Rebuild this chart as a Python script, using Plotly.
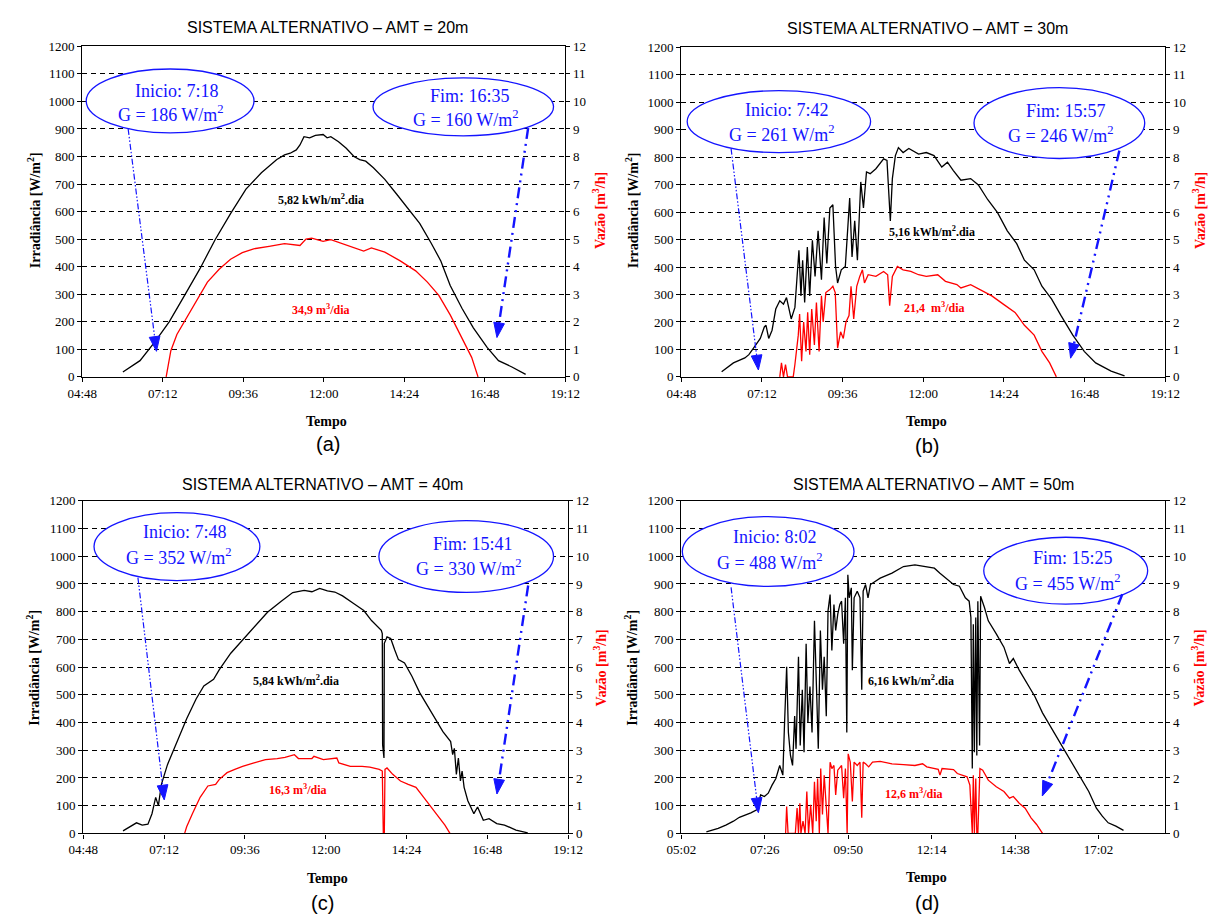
import math
import plotly.graph_objects as go

# ================= DATA (times in decimal hours) =================
# Panel (a) AMT = 20 m
a_irr_h = [6.01, 6.52, 6.98, 7.39, 7.85, 8.30, 8.76, 9.22, 9.68, 9.86, 10.14, 10.60, 10.83, 11.00, 11.18,
           11.29, 11.41, 11.58, 11.75, 11.98, 12.10, 12.21, 12.44, 12.67, 12.90, 13.07, 13.25, 13.48, 13.82,
           14.17, 14.51, 14.86, 15.20, 15.49, 15.77, 16.12, 16.46, 16.87, 17.21, 17.61, 18.02]
a_irr = [18, 59, 130, 200, 296, 391, 498, 593, 682, 705, 741, 789, 806, 812, 824,
         842, 872, 868, 877, 880, 868, 872, 854, 830, 800, 789, 783, 759, 717,
         664, 611, 557, 486, 421, 332, 249, 178, 107, 59, 36, 9]
a_flow_h = [7.30, 7.44, 7.62, 7.85, 8.19, 8.53, 8.88, 9.22, 9.57, 9.91, 10.37, 10.83, 11.29, 11.47, 11.64,
            11.98, 12.21, 12.56, 12.90, 13.19, 13.42, 13.82, 14.28, 14.74, 15.09, 15.43, 15.77, 16.12, 16.41, 16.60]
a_flow = [0, 0.95, 1.54, 2.02, 2.73, 3.44, 3.91, 4.27, 4.51, 4.65, 4.74, 4.84, 4.77, 5.00, 5.04,
          4.92, 4.98, 4.84, 4.68, 4.57, 4.68, 4.53, 4.21, 3.85, 3.44, 2.96, 2.25, 1.42, 0.71, 0]

# Panel (b) AMT = 30 m
b_irr_h = [6.00, 6.35, 6.69, 6.81, 6.98, 7.15, 7.27, 7.32, 7.40, 7.50, 7.61, 7.73, 7.84, 7.93, 8.07,
           8.18, 8.30, 8.36, 8.41, 8.47, 8.55, 8.62, 8.70, 8.78, 8.87, 8.97, 9.05, 9.13, 9.22, 9.31,
           9.39, 9.45, 9.56, 9.68, 9.81, 9.88, 9.96, 10.04, 10.14, 10.22, 10.31, 10.42, 10.59, 10.82, 10.92,
           10.96, 11.02, 11.08, 11.17, 11.26, 11.40, 11.57, 11.86, 12.09, 12.32, 12.55, 12.72, 12.89, 13.12, 13.41,
           13.64, 13.92, 14.21, 14.50, 14.78, 15.01, 15.30, 15.53, 15.82, 16.10, 16.45, 16.79, 17.13, 17.59, 17.99]
b_irr = [19, 51, 69, 81, 110, 140, 182, 188, 140, 170, 247, 277, 265, 289, 211,
         253, 461, 295, 425, 271, 473, 295, 497, 366, 532, 354, 580, 413, 615, 627,
         402, 342, 390, 402, 651, 437, 568, 425, 710, 615, 746, 740, 758, 794, 788,
         675, 568, 722, 806, 835, 817, 832, 811, 817, 806, 764, 782, 752, 716, 722,
         699, 645, 598, 532, 485, 425, 390, 330, 283, 223, 152, 93, 51, 21, 4]
b_flow_h = [7.73, 7.78, 7.84, 7.90, 7.96, 8.13, 8.18, 8.28, 8.32, 8.38, 8.44, 8.51, 8.56, 8.62, 8.68,
            8.76, 8.82, 8.90, 8.97, 9.02, 9.10, 9.22, 9.31, 9.38, 9.45, 9.54, 9.62, 9.70, 9.79, 9.85,
            9.93, 10.02, 10.11, 10.19, 10.25, 10.36, 10.59, 10.82, 10.94, 11.00, 11.08, 11.23, 11.40, 11.63, 11.86,
            12.09, 12.43, 12.66, 13.00, 13.12, 13.41, 13.69, 14.04, 14.38, 14.73, 15.01, 15.30, 15.53, 15.76, 15.96]
b_flow = [0, 0.51, 0, 0.45, 0, 0, 0.45, 1.52, 2.29, 0.57, 2.00, 0.93, 2.35, 0.81, 2.47,
          1.16, 2.71, 0.93, 2.95, 2.00, 3.07, 3.18, 3.30, 3.07, 1.05, 1.64, 1.40, 2.00, 2.23, 3.30,
          2.11, 3.30, 3.66, 3.90, 3.42, 3.72, 3.66, 3.84, 3.72, 2.59, 3.66, 4.02, 3.90, 3.84, 3.72,
          3.66, 3.72, 3.48, 3.36, 3.24, 3.36, 3.18, 2.95, 2.65, 2.35, 1.88, 1.52, 0.93, 0.51, 0]

# Panel (c) AMT = 40 m
c_irr_h = [5.98, 6.21, 6.38, 6.55, 6.72, 6.84, 6.95, 7.03, 7.12, 7.30, 7.58, 7.87, 8.15, 8.38, 8.67,
           8.84, 9.18, 9.53, 9.87, 10.27, 10.67, 11.02, 11.36, 11.59, 11.82, 12.05, 12.27, 12.50, 12.85, 13.13,
           13.36, 13.65, 13.68, 13.69, 13.73, 13.74, 13.82, 13.93, 14.05, 14.16, 14.34, 14.56, 14.79, 15.02, 15.25,
           15.48, 15.71, 15.77, 15.82, 15.88, 15.94, 16.00, 16.05, 16.11, 16.22, 16.40, 16.51, 16.68, 16.85, 17.08,
           17.31, 17.65, 18.00]
c_irr = [9, 24, 38, 30, 33, 71, 130, 100, 177, 248, 331, 414, 485, 532, 556,
         591, 650, 698, 745, 798, 837, 869, 877, 872, 884, 875, 871, 857, 828, 804,
         768, 733, 721, 319, 272, 686, 709, 703, 662, 627, 615, 567, 508, 461, 414,
         367, 331, 284, 307, 213, 272, 189, 225, 166, 118, 71, 95, 47, 53, 35,
         30, 12, 2]
c_flow_h = [7.81, 7.87, 8.04, 8.27, 8.50, 8.73, 8.84, 9.07, 9.30, 9.53, 9.87, 10.21, 10.56, 10.79, 11.07,
            11.19, 11.59, 11.65, 11.93, 12.33, 12.39, 12.73, 13.08, 13.31, 13.59, 13.68, 13.71, 13.74, 13.76, 13.82,
            13.99, 14.22, 14.45, 14.68, 14.91, 15.14, 15.37, 15.54, 15.69]
c_flow = [0, 0.24, 0.71, 1.30, 1.71, 1.77, 1.95, 2.19, 2.31, 2.42, 2.54, 2.66, 2.70, 2.74, 2.84,
          2.70, 2.70, 2.78, 2.66, 2.72, 2.54, 2.42, 2.42, 2.39, 2.31, 2.25, 0, 0, 2.31, 2.36,
          2.13, 1.89, 1.77, 1.66, 1.30, 0.95, 0.59, 0.30, 0]

# Panel (d) AMT = 50 m
d_irr_h = [5.76, 6.10, 6.32, 6.54, 6.71, 6.87, 7.04, 7.21, 7.32, 7.43,
           7.54, 7.65, 7.76, 7.87, 7.96, 8.01, 8.04, 8.07, 8.12, 8.18,
           8.24, 8.30, 8.34, 8.41, 8.46, 8.52, 8.57, 8.63, 8.68, 8.74,
           8.80, 8.87, 8.93, 8.98, 9.04, 9.10, 9.15, 9.21, 9.26, 9.32,
           9.37, 9.43, 9.48, 9.54, 9.60, 9.65, 9.71, 9.76, 9.80, 9.83,
           9.87, 9.93, 9.96, 10.01, 10.10, 10.18, 10.23, 10.27, 10.34, 10.41,
           10.48, 10.76, 11.10, 11.43, 11.76, 12.10, 12.32, 12.48, 12.65, 12.87,
           13.04, 13.21, 13.32, 13.37, 13.41, 13.44, 13.47, 13.51, 13.54, 13.57,
           13.62, 13.65, 13.76, 13.87, 14.10, 14.32, 14.48, 14.59, 14.76, 14.98,
           15.21, 15.43, 15.65, 15.87, 16.10, 16.32, 16.54, 16.76, 16.98, 17.15,
           17.32, 17.54, 17.76]
d_irr = [5, 18, 30, 44, 58, 65, 74, 85, 139, 133,
         145, 174, 198, 245, 210, 400, 530, 601, 364, 281,
         245, 423, 305, 637, 317, 518, 293, 684, 400, 530,
         364, 767, 518, 305, 732, 518, 637, 423, 803, 862,
         660, 826, 732, 791, 826, 838, 684, 850, 364, 933,
         850, 886, 589, 850, 874, 850, 518, 874, 898, 850,
         898, 921, 939, 963, 969, 963, 957, 939, 921, 898,
         892, 850, 838, 779, 234, 755, 293, 779, 281, 838,
         317, 856, 815, 767, 720, 672, 613, 631, 589, 542,
         494, 435, 388, 340, 293, 245, 198, 151, 91, 62,
         38, 26, 11]
d_flow_h = [8.04, 8.07, 8.11, 8.32, 8.37, 8.41, 8.45, 8.48, 8.54, 8.60,
            8.65, 8.70, 8.76, 8.82, 8.87, 8.92, 8.96, 9.01, 9.05, 9.10,
            9.15, 9.21, 9.26, 9.32, 9.37, 9.43, 9.48, 9.54, 9.60, 9.65,
            9.71, 9.76, 9.81, 9.84, 9.90, 9.96, 10.01, 10.10, 10.18, 10.23,
            10.27, 10.34, 10.43, 10.54, 10.76, 11.10, 11.43, 11.76, 11.98, 12.10,
            12.43, 12.48, 12.54, 12.87, 12.98, 13.10, 13.26, 13.34, 13.41, 13.44,
            13.47, 13.51, 13.54, 13.57, 13.63, 13.71, 13.87, 14.10, 14.32, 14.48,
            14.59, 14.76, 14.93, 15.10, 15.26, 15.43]
d_flow = [0, 0.97, 0, 0, 0.91, 0, 1.09, 0, 0.44, 0,
          1.51, 0, 1.03, 0, 1.86, 0.44, 1.98, 0, 2.34, 0.68,
          2.10, 0.91, 0, 2.57, 2.34, 2.45, 1.39, 2.28, 2.40, 2.45,
          1.27, 2.34, 0, 2.87, 2.57, 1.15, 2.57, 2.45, 2.57, 0.56,
          2.57, 2.51, 2.40, 2.57, 2.60, 2.51, 2.48, 2.45, 2.51, 2.40,
          2.31, 2.10, 2.34, 2.30, 2.16, 2.10, 2.04, 1.74, 0, 2.10,
          0, 1.98, 0, 0, 2.34, 2.28, 1.92, 1.68, 1.51, 1.27,
          1.33, 1.09, 0.91, 0.56, 0.32, 0]

# tick labels
abc_tickvals = [4.8, 7.2, 9.6, 12.0, 14.4, 16.8, 19.2]
abc_ticktext = ["04:48", "07:12", "09:36", "12:00", "14:24", "16:48", "19:12"]
d_tickvals = [5.04, 7.44, 9.84, 12.24, 14.64, 17.04]
d_ticktext = ["05:02", "07:26", "09:50", "12:14", "14:38", "17:02"]

titles = ["SISTEMA ALTERNATIVO – AMT = 20m", "SISTEMA ALTERNATIVO – AMT = 30m",
          "SISTEMA ALTERNATIVO – AMT = 40m", "SISTEMA ALTERNATIVO – AMT = 50m"]
inicio = [("7:18", "186"), ("7:42", "261"), ("7:48", "352"), ("8:02", "488")]
fim = [("16:35", "160"), ("15:57", "246"), ("15:41", "330"), ("15:25", "455")]
energia = ["5,82", "5,16", "5,84", "6,16"]
volume = ["34,9", "21,4 ", "16,3", "12,6"]
letters = ["(a)", "(b)", "(c)", "(d)"]

# ================= LAYOUT =================
W, H = 1229, 924
def px(x): return x / W
def py(y): return 1 - y / H

SERIF = "Liberation Serif"
SANS = "Liberation Sans"
BLUE = "rgb(20,20,255)"
RED = "rgb(255,0,0)"

panels = [
    dict(irr=(a_irr_h, a_irr), flow=(a_flow_h, a_flow), box=(69, 564, 40, 376),
         xr=[4.8, 19.2], tv=abc_tickvals, tt=abc_ticktext,
         title=(320, 21), tempo=(319, 421), letter=(321, 444), ylt=(19, 207), yrt=(598, 207),
         el1=(73, 245, 63, 128), t1=(166, 85), t2=(160, 108),
         el2=(367, 552, 72, 131), t3=(466, 90), t4=(462, 113),
         ar1=(116, 124, 145, 350), ar2=(526, 123, 494, 336),
         en=(314, 196), vol=(314, 308)),
    dict(irr=(b_irr_h, b_irr), flow=(b_flow_h, b_flow), box=(683, 1179, 41, 376),
         xr=[4.8, 19.2], tv=abc_tickvals, tt=abc_ticktext,
         title=(935, 22), tempo=(934, 421), letter=(935, 446), ylt=(632, 207), yrt=(1213, 207),
         el1=(689, 877, 85, 148), t1=(791, 105), t2=(786, 129),
         el2=(983, 1158, 82, 154), t3=(1077, 106), t4=(1072, 130),
         ar1=(734, 144, 762, 369), ar2=(1132, 146, 1082, 357),
         en=(940, 228), vol=(943, 305)),
    dict(irr=(c_irr_h, c_irr), flow=(c_flow_h, c_flow), box=(70, 567, 502, 840),
         xr=[4.8, 19.2], tv=abc_tickvals, tt=abc_ticktext,
         title=(315, 485), tempo=(320, 886), letter=(315, 911), ylt=(19, 672), yrt=(600, 672),
         el1=(81, 251, 514, 583), t1=(174, 534), t2=(168, 559),
         el2=(373, 552, 522, 595), t3=(469, 546), t4=(465, 570),
         ar1=(126, 580, 153, 806), ar2=(526, 588, 494, 800),
         en=(288, 685), vol=(290, 795)),
    dict(irr=(d_irr_h, d_irr), flow=(d_flow_h, d_flow), box=(683, 1179, 502, 840),
         xr=[5.04, 18.96], tv=d_tickvals, tt=d_ticktext,
         title=(941, 485), tempo=(934, 885), letter=(935, 911), ylt=(632, 672), yrt=(1213, 672),
         el1=(684, 860, 518, 589), t1=(779, 539), t2=(774, 564),
         el2=(993, 1161, 539, 607), t3=(1084, 560), t4=(1079, 585),
         ar1=(734, 590, 762, 819), ar2=(1135, 597, 1053, 802),
         en=(918, 685), vol=(921, 799)),
]

fig = go.Figure()
layout = dict(width=W, height=H, margin=dict(l=0, r=0, t=0, b=0),
              paper_bgcolor="white", plot_bgcolor="white", showlegend=False,
              hovermode=False)
annotations = []
shapes = []

def head(x0, y0, x1, y1, L=15, Wd=5.5):
    dx, dy = x1 - x0, y1 - y0
    d = math.hypot(dx, dy)
    ux, uy = dx / d, dy / d
    bx, by = x1 - ux * L, y1 - uy * L
    nx, ny = -uy, ux
    pts = [(x1, y1), (bx + nx * Wd, by + ny * Wd), (bx - nx * Wd, by - ny * Wd)]
    path = "M " + " L ".join(f"{px(a):.5f},{py(b):.5f}" for a, b in pts) + " Z"
    return path, bx, by

tick_font = dict(family=SERIF, size=13, color="black")

for i, p in enumerate(panels):
    n = i + 1
    xk = "xaxis" if n == 1 else f"xaxis{n}"
    xref = "x" if n == 1 else f"x{n}"
    yl, yr = 2 * i + 1, 2 * i + 2
    ylk = "yaxis" if yl == 1 else f"yaxis{yl}"
    ylref = "y" if yl == 1 else f"y{yl}"
    yrk, yrref = f"yaxis{yr}", f"y{yr}"
    L, R, T, B = p["box"]

    layout[xk] = dict(domain=[px(L), px(R)], anchor=ylref, range=p["xr"],
                      tickmode="array", tickvals=p["tv"], ticktext=p["tt"],
                      showline=True, mirror=True, linecolor="black", linewidth=1.3,
                      ticks="outside", ticklen=4, tickcolor="black", showgrid=False,
                      zeroline=False, tickfont=tick_font)
    layout[ylk] = dict(domain=[py(B), py(T)], anchor=xref, range=[0, 1200],
                       tick0=0, dtick=100, showgrid=True, gridcolor="black",
                       griddash="5px,4px", gridwidth=1, showline=True, linecolor="black",
                       linewidth=1.3, ticks="outside", ticklen=4, tickcolor="black",
                       zeroline=False, tickfont=tick_font)
    layout[yrk] = dict(domain=[py(B), py(T)], anchor=xref, overlaying=ylref, side="right",
                       range=[0, 12], tick0=0, dtick=1, showgrid=False, showline=True,
                       linecolor="black", linewidth=1.3, ticks="outside", ticklen=4,
                       tickcolor="black", zeroline=False, tickfont=tick_font)

    fig.add_trace(go.Scatter(x=p["irr"][0], y=p["irr"][1], mode="lines",
                             line=dict(color="black", width=1.3), xaxis=xref, yaxis=ylref))
    fig.add_trace(go.Scatter(x=p["flow"][0], y=p["flow"][1], mode="lines",
                             line=dict(color=RED, width=1.3), xaxis=xref, yaxis=yrref))

    def ann(pos, text, font, **kw):
        d = dict(x=px(pos[0]), y=py(pos[1]), xref="paper", yref="paper", text=text,
                 showarrow=False, font=font, xanchor="center", yanchor="middle")
        d.update(kw)
        annotations.append(d)

    ann(p["title"], titles[i], dict(family=SANS, size=16, color="black"))
    ann(p["tempo"], "<b>Tempo</b>", dict(family=SERIF, size=14, color="black"))
    ann(p["letter"], letters[i], dict(family=SANS, size=20, color="black"))
    ann(p["ylt"], "<b>Irradiância [W/m<sup>2</sup>]</b>", dict(family=SERIF, size=14, color="black"), textangle=-90)
    ann(p["yrt"], "<b>Vazão [m<sup>3</sup>/h]</b>", dict(family=SERIF, size=14, color=RED), textangle=-90)
    ann(p["en"], f"<b>{energia[i]} kWh/m<sup>2</sup>.dia</b>", dict(family=SERIF, size=12, color="black"))
    ann(p["vol"], f"<b>{volume[i]} m<sup>3</sup>/dia</b>", dict(family=SERIF, size=12, color=RED))

    blue_font = dict(family=SERIF, size=18, color=BLUE)
    ann(p["t1"], f"Inicio: {inicio[i][0]}", blue_font)
    ann(p["t2"], f"G = {inicio[i][1]} W/m<sup>2</sup>", blue_font)
    ann(p["t3"], f"Fim: {fim[i][0]}", blue_font)
    ann(p["t4"], f"G = {fim[i][1]} W/m<sup>2</sup>", blue_font)

    for (x0, x1, y0, y1) in (p["el1"], p["el2"]):
        shapes.append(dict(type="circle", xref="paper", yref="paper",
                           x0=px(x0), x1=px(x1), y0=py(y1), y1=py(y0),
                           fillcolor="white", layer="above",
                           line=dict(color=BLUE, width=1.3)))

    for (x0, y0, x1, y1), wdt, dash in ((p["ar1"], 1.2, "6px,2px,1.5px,2px,1.5px,2px"),
                                         (p["ar2"], 2.4, "11px,5px,2px,5px,2px,5px")):
        path, bx, by = head(x0, y0, x1, y1)
        shapes.append(dict(type="line", xref="paper", yref="paper",
                           x0=px(x0), y0=py(y0), x1=px(bx), y1=py(by),
                           line=dict(color=BLUE, width=wdt, dash=dash)))
        shapes.append(dict(type="path", xref="paper", yref="paper", path=path,
                           fillcolor=BLUE, line=dict(color=BLUE, width=1)))

layout["annotations"] = annotations
layout["shapes"] = shapes
fig.update_layout(**layout)
fig.write_html("out.html")
